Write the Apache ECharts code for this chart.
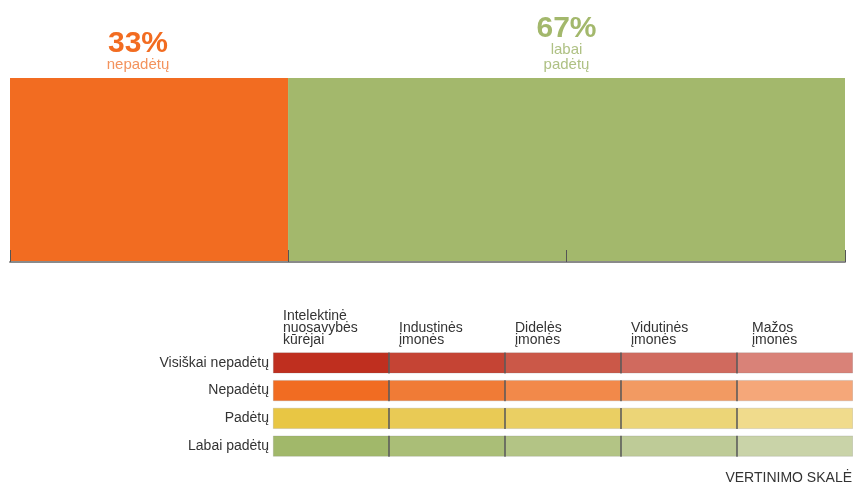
<!DOCTYPE html>
<html>
<head>
<meta charset="utf-8">
<script src="https://cdn.jsdelivr.net/npm/echarts@6/dist/echarts.min.js"></script>
<style>html,body{margin:0;padding:0;background:#fff}#c{width:853px;height:486px}</style>
</head>
<body>
<div id="c"></div>
<script>
// ---- data ----
var topValues = [33.3, 66.7];
var topNames = ['nepadėtų', 'labai\npadėtų'];
var scaleRows = ['Visiškai nepadėtų', 'Nepadėtų', 'Padėtų', 'Labai padėtų'];
var scaleColumns = ['Intelektinė\nnuosavybės\nkūrėjai', 'Industinės\nįmonės', 'Didelės\nįmonės', 'Vidutinės\nįmonės', 'Mažos\nįmonės'];
var cellValue = [1, 1, 1, 1];
var footerText = 'VERTINIMO SKALĖ';

// ---- styles ----
var FONT = 'Liberation Sans, Arial, sans-serif';
var topColors = ['#F26C21', '#A3B86C'];
var topSubColors = ['#F3935D', '#AFC184'];
var palette = [
  ['#BF2F1F', '#C54434', '#CB5848', '#D06A5E', '#D98278'],
  ['#F16C22', '#F07B36', '#F2894A', '#F29A62', '#F5A779'],
  ['#E8C644', '#E9CA55', '#EACF63', '#ECD577', '#F0DB8C'],
  ['#A1B86A', '#AABE77', '#B3C485', '#BECB97', '#C9D3A8']
];

var chart = echarts.init(document.getElementById('c'));

var series = [];
// top stacked bar
topValues.forEach(function (v, i) {
  series.push({
    type: 'bar', xAxisIndex: 0, yAxisIndex: 0, stack: 'top',
    barWidth: '100%', data: [v], z: 1,
    itemStyle: { color: topColors[i] },
    label: {
      show: true, position: 'top', distance: 6,
      offset: i === 0 ? [-11, 0] : [0, 0],
      formatter: function (p) {
        return '{a|' + Math.round(p.value) + '%}\n{b|' + topNames[i].split('\n').join('}\n{b|') + '}';
      },
      rich: {
        a: { fontFamily: FONT, fontSize: 30, fontWeight: 'bold', color: topColors[i], lineHeight: 27, align: 'center' },
        b: { fontFamily: FONT, fontSize: 15, color: topSubColors[i], lineHeight: 15, align: 'center' }
      }
    }
  });
});
// bottom scale grid
scaleColumns.forEach(function (c, ci) {
  series.push({
    type: 'bar', xAxisIndex: 1, yAxisIndex: 1, stack: 'scale',
    barWidth: 21,
    data: cellValue.map(function (v, ri) {
      return { value: v, itemStyle: { color: palette[ri][ci] } };
    }),
    itemStyle: { borderColor: 'rgba(120,120,120,0.35)', borderWidth: 0.6 }
  });
});
// dividers between columns
var dividerData = [];
scaleRows.forEach(function (r, ri) {
  for (var k = 1; k < scaleColumns.length; k++) dividerData.push([k, ri]);
});
series.push({
  type: 'scatter', xAxisIndex: 1, yAxisIndex: 1, z: 5,
  symbol: 'rect', symbolSize: [1.2, 21], silent: true,
  itemStyle: { color: '#3c3c3c', opacity: 1 },
  data: dividerData
});

chart.setOption({
  animation: false,
  backgroundColor: '#fff',
  textStyle: { fontFamily: FONT },
  title: {
    text: footerText, right: 1, top: 471,
    textStyle: { fontFamily: FONT, fontSize: 14, fontWeight: 'normal', color: '#333' },
    padding: 0
  },
  grid: [
    { left: 10, right: 8, top: 78, bottom: 224, outerBoundsMode: 'none' },
    { left: 273, right: 0, top: 349, bottom: 26, outerBoundsMode: 'none' }
  ],
  xAxis: [
    {
      gridIndex: 0, type: 'value', min: 0, max: 100, z: 10,
      axisLine: { show: true, lineStyle: { color: '#8a8a8a', width: 2 } },
      axisTick: { show: true, inside: true, length: 12, customValues: [0, 100 / 3, 200 / 3, 100], lineStyle: { color: '#555', width: 1 } },
      axisLabel: { show: false }, splitLine: { show: false }
    },
    {
      gridIndex: 1, type: 'value', min: 0, max: 5, interval: 1, position: 'top',
      axisLine: { show: false }, axisTick: { show: false }, splitLine: { show: false },
      axisLabel: {
        show: true, margin: 3, align: 'left', verticalAlign: 'bottom',
        formatter: function (v) {
          var i = Math.round(v);
          if (i >= scaleColumns.length) return '';
          var st = i === scaleColumns.length - 1 ? 'm' : 'h';
          return scaleColumns[i].split('\n').map(function (s) { return '{' + st + '|' + s + '}'; }).join('\n');
        },
        rich: {
          h: { fontFamily: FONT, fontSize: 14, color: '#333', lineHeight: 12, padding: [0, 0, 0, 10] },
          m: { fontFamily: FONT, fontSize: 14, color: '#333', lineHeight: 12, padding: [0, 0, 0, 15] }
        }
      }
    }
  ],
  yAxis: [
    {
      gridIndex: 0, type: 'category', data: [''],
      axisLine: { show: false }, axisTick: { show: false }, axisLabel: { show: false }
    },
    {
      gridIndex: 1, type: 'category', data: scaleRows, inverse: true,
      axisLine: { show: false }, axisTick: { show: false },
      axisLabel: { show: true, margin: 4, fontFamily: FONT, fontSize: 14, color: '#333' }
    }
  ],
  series: series
});
</script>
</body>
</html>
